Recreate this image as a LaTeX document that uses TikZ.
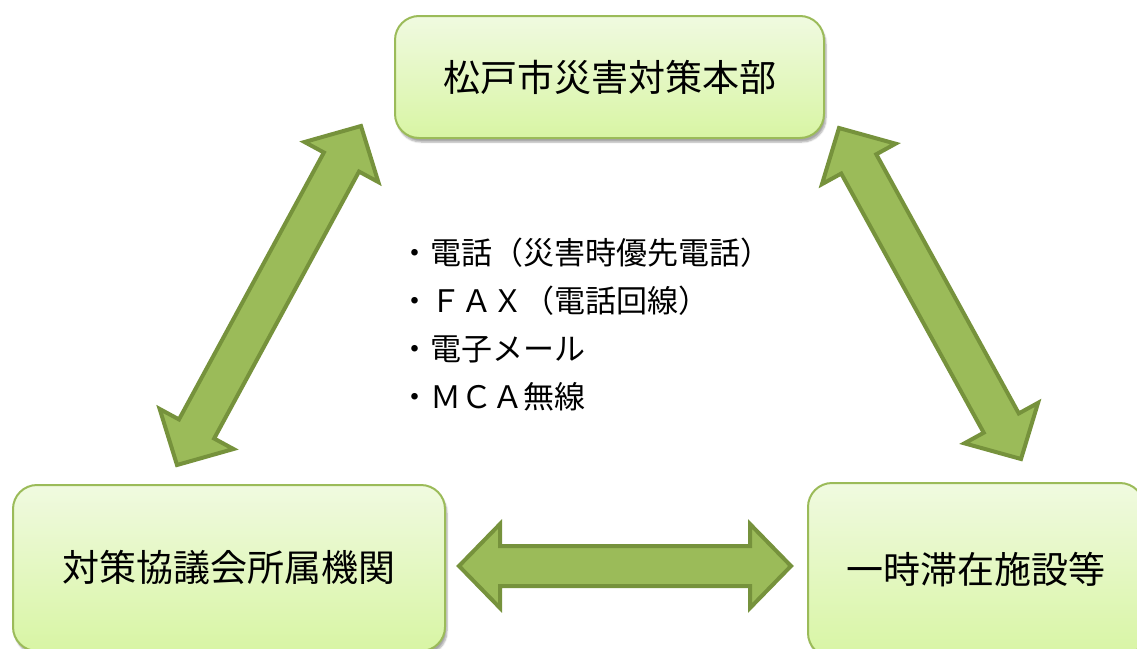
\documentclass[tikz,border=0pt]{standalone}
\usepackage{fontspec}
\newfontfamily\jpfont{Noto Sans CJK JP}
\usepackage{tikz}
\usetikzlibrary{calc, positioning, shadows.blur}
\usepackage{xcolor}
\definecolor{myleaf}{HTML}{9BBB59}
\definecolor{mymoss}{HTML}{76923C}
\definecolor{mylight}{HTML}{F0FAE0}
\definecolor{mylime}{HTML}{D8F5A4}
\tikzset{
	orgbox/.style={draw=myleaf, line width=2pt, rounded corners=24pt, top color=mylight, bottom color=mylime,
		blur shadow={shadow xshift=2pt, shadow yshift=-4pt, shadow blur steps=6, shadow opacity=35},
		font=\jpfont\fontsize{37}{44}\selectfont, inner sep=0pt},
	fatarrow/.style={draw=mymoss, fill=myleaf, line width=4pt, line join=miter},
	medialist/.style={font=\jpfont\fontsize{31}{48}\selectfont, align=left, inner sep=0pt}
}
\newcommand{\dblarrow}[2]{%
	\draw[fatarrow] (#1) -- ($(#1)!41pt!(#2)!42pt!90:(#2)$) -- ($(#1)!41pt!(#2)!20pt!90:(#2)$)
		-- ($(#2)!41pt!(#1)!20pt!-90:(#1)$) -- ($(#2)!41pt!(#1)!42pt!-90:(#1)$) -- (#2)
		-- ($(#2)!41pt!(#1)!42pt!90:(#1)$) -- ($(#2)!41pt!(#1)!20pt!90:(#1)$)
		-- ($(#1)!41pt!(#2)!20pt!-90:(#2)$) -- ($(#1)!41pt!(#2)!42pt!-90:(#2)$) -- cycle;}

\begin{document}
\begin{tikzpicture}[x=1pt, y=-1pt]
	\useasboundingbox (0,0) rectangle (1137,648);
	\clip (0,0) rectangle (1137,648);
	\node[orgbox, minimum width=429pt, minimum height=122pt] (hq) at (609.5,77) {松戸市災害対策本部};
	\node[orgbox, minimum width=432pt, minimum height=166pt] (council) at (229,568) {対策協議会所属機関};
	\node[orgbox, minimum width=336pt, minimum height=174pt] (shelter) at (976,570) {一時滞在施設等};
	\node[medialist, anchor=north west] (media) at (399,238) {・電話（災害時優先電話）\\・ＦＡＸ（電話回線）\\・電子メール\\・ＭＣＡ無線};
	\coordinate (hqL) at (361,126);
	\coordinate (councilT) at (177,465);
	\coordinate (hqR) at (839,128);
	\coordinate (shelterT) at (1021,459);
	\coordinate (councilR) at (459,566);
	\coordinate (shelterL) at (791,566);
	\dblarrow{hqL}{councilT}
	\dblarrow{hqR}{shelterT}
	\dblarrow{councilR}{shelterL}
\end{tikzpicture}
\end{document}
